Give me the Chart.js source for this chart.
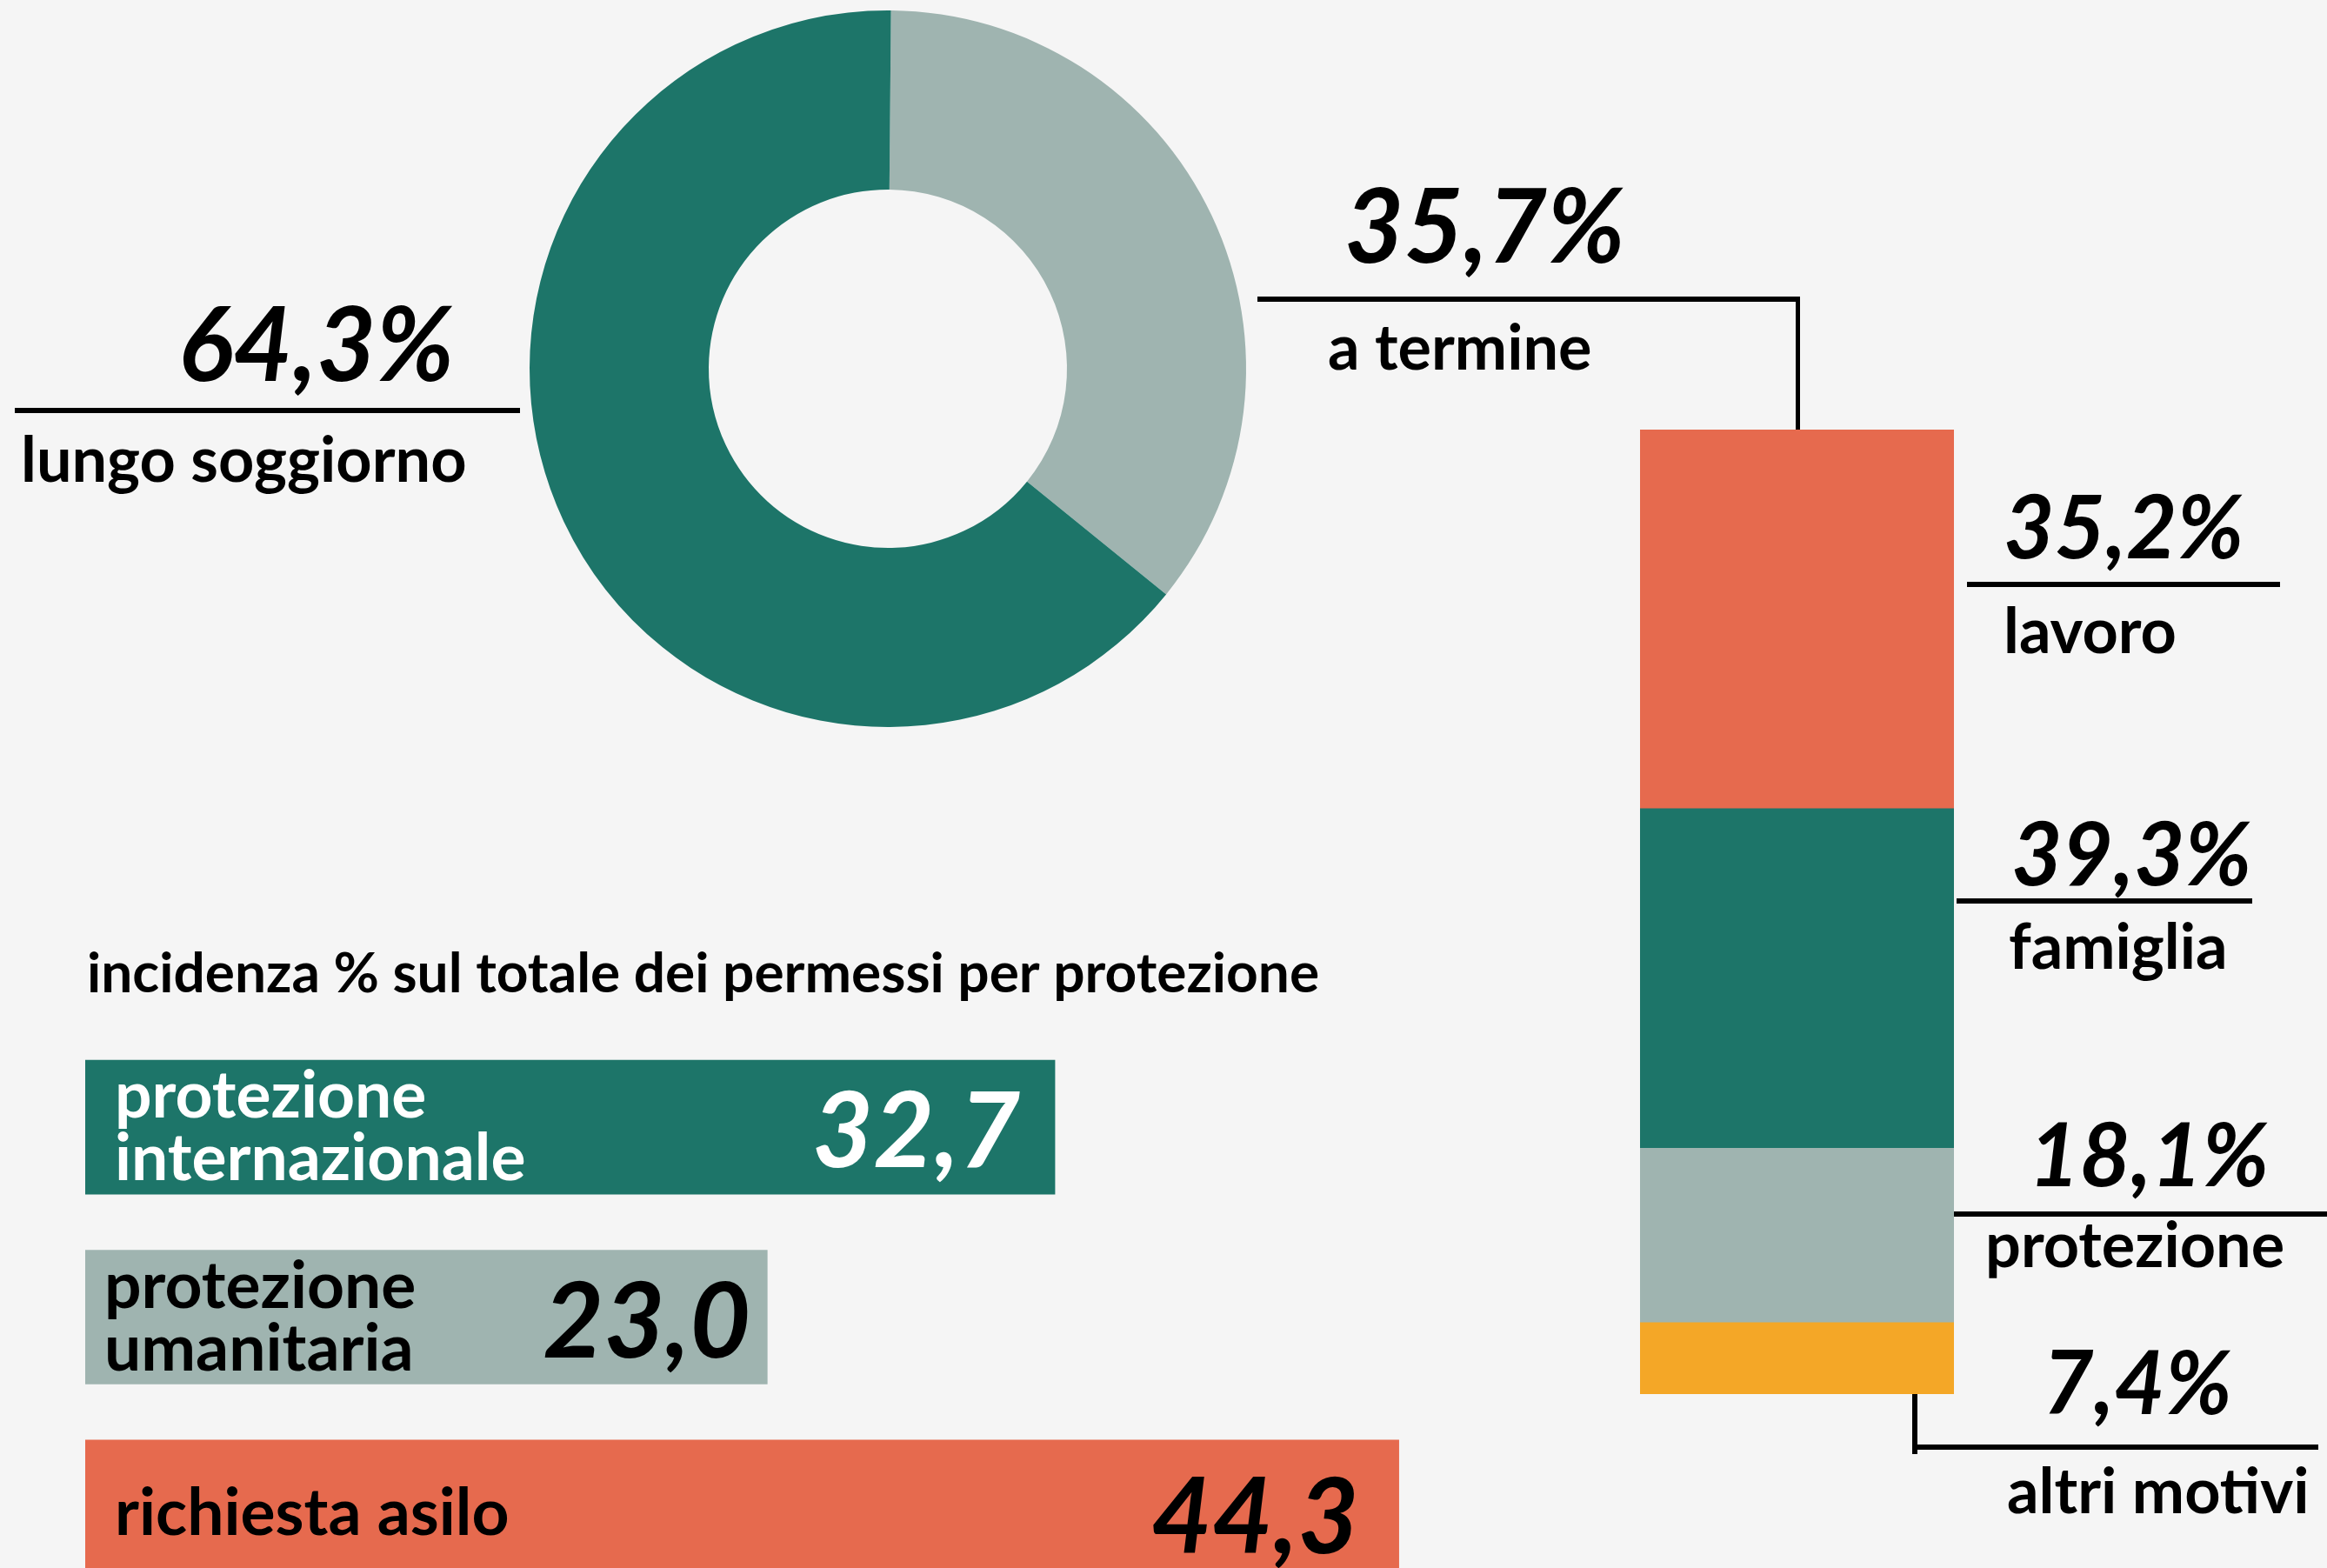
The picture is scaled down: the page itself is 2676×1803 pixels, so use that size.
<!DOCTYPE html>
<html lang="it">
<head>
<meta charset="utf-8">
<script src="https://cdn.jsdelivr.net/npm/chart.js@4.4.1/dist/chart.umd.min.js"></script>
<style>
  html, body { margin: 0; padding: 0; background: #f5f5f5; overflow: hidden; }
  #wrap { position: relative; width: 2676px; height: 1803px; overflow: hidden; }
  canvas { position: absolute; left: 0; top: 0; }
</style>
</head>
<body>
<div id="wrap">
  <canvas id="donut" width="2676" height="1803"></canvas>
  <canvas id="stack" width="2676" height="1803"></canvas>
  <canvas id="hbar" width="2676" height="1843"></canvas>
</div>
<script>
// permessi per durata
const durataLabels = ['a termine', 'lungo soggiorno'];
const durataValues = [35.7, 64.3];
const durataColors = ['#9fb4b0', '#1d7569'];

// motivi dei permessi a termine, dal basso verso l'alto
// (altezze lette dalla colonna; le etichette sono quelle stampate accanto)
const motiviLabels = ['altri motivi', 'protezione', 'famiglia', 'lavoro'];
const motiviValues = [7.4, 18.1, 35.2, 39.3];
const motiviTesti = ['7,4%', '18,1%', '39,3%', '35,2%'];
const motiviColors = ['#f4a727', '#9fb4b0', '#1d7569', '#e66a4e'];

// incidenza % sul totale dei permessi per protezione
const titolo = 'incidenza % sul totale dei permessi per protezione';
const protezioneLabels = [['protezione', 'internazionale'], ['protezione', 'umanitaria'], ['richiesta asilo']];
const protezioneValues = [32.7, 23.0, 44.3];
const protezioneColors = ['#1d7569', '#9fb4b0', '#e66a4e'];
const protezioneText = ['#ffffff', '#000000', '#000000'];

const NUM_BIG = 'italic 700 118px Lato';
const NUM_MID = 'italic 700 101px Lato';
const NUM_BAR = 'italic 700 121px Lato';
const LBL_FONT = '700 72px Lato';
const BAR_LBL_FONT = '700 75px Lato';
const TITLE_FONT = '700 64px Lato';

const fmt = v => v.toFixed(1).replace('.', ',');

function rule(ctx, x1, y, x2, w) {
  ctx.fillRect(x1, y - w / 2, x2 - x1, w);
}

const noUi = {
  legend: { display: false },
  tooltip: { enabled: false }
};

// --- ciambella ---
const donutText = {
  id: 'donutText',
  afterDraw(chart) {
    const ctx = chart.ctx;
    ctx.save();
    ctx.fillStyle = '#000';
    ctx.textBaseline = 'alphabetic';
    ctx.font = NUM_BIG;
    ctx.fillText(fmt(durataValues[1]) + '%', 205, 438);
    rule(ctx, 17, 472, 598, 6);
    ctx.font = LBL_FONT;
    ctx.fillText(durataLabels[1], 24, 554);
    ctx.restore();
  }
};

new Chart(document.getElementById('donut'), {
  type: 'doughnut',
  data: {
    labels: durataLabels,
    datasets: [{
      data: durataValues,
      backgroundColor: durataColors,
      borderWidth: 0,
      hoverOffset: 0
    }]
  },
  options: {
    responsive: false,
    animation: false,
    rotation: 0.5,
    cutout: '50%',
    layout: { autoPadding: false, padding: { left: 609, right: 1243, top: 12, bottom: 967 } },
    plugins: noUi
  },
  plugins: [donutText]
});

// --- colonna dei motivi ---
const stackText = {
  id: 'stackText',
  afterDraw(chart) {
    const ctx = chart.ctx;
    const top = chart.getDatasetMeta(3).data[0];
    const bottom = chart.getDatasetMeta(0).data[0];
    ctx.save();
    ctx.fillStyle = '#000';
    ctx.textBaseline = 'alphabetic';

    // a termine, collegato alla colonna
    ctx.font = NUM_BIG;
    ctx.fillText(fmt(durataValues[0]) + '%', 1546, 302);
    rule(ctx, 1446, 344, 2070, 6);
    ctx.fillRect(2065, 344, 5, top.y - 344);
    ctx.font = LBL_FONT;
    ctx.fillText(durataLabels[0], 1527, 425);

    // lavoro
    ctx.font = NUM_MID;
    ctx.fillText(motiviTesti[3], 2304, 642);
    rule(ctx, 2262, 672, 2622, 6);
    ctx.font = LBL_FONT;
    ctx.fillText(motiviLabels[3], 2304, 751);

    // famiglia
    ctx.font = NUM_MID;
    ctx.fillText(motiviTesti[2], 2313, 1018);
    rule(ctx, 2250, 1036, 2590, 6);
    ctx.font = LBL_FONT;
    ctx.fillText(motiviLabels[2], 2310, 1114);

    // protezione
    ctx.font = NUM_MID;
    ctx.fillText(motiviTesti[1], 2333, 1364);
    rule(ctx, 2247, 1396, 2676, 6);
    ctx.font = LBL_FONT;
    ctx.fillText(motiviLabels[1], 2283, 1457);

    // altri motivi
    ctx.font = NUM_MID;
    ctx.fillText(motiviTesti[0], 2349, 1626);
    rule(ctx, 2202, 1664, 2666, 6);
    ctx.fillRect(2199, bottom.base, 6, 1672 - bottom.base);
    ctx.font = LBL_FONT;
    ctx.fillText(motiviLabels[0], 2308, 1740);
    ctx.restore();
  }
};

new Chart(document.getElementById('stack'), {
  type: 'bar',
  data: {
    labels: ['a termine'],
    datasets: motiviLabels.map((l, i) => ({
      label: l,
      data: [motiviValues[i]],
      backgroundColor: motiviColors[i],
      borderWidth: 0,
      categoryPercentage: 1,
      barPercentage: 1
    }))
  },
  options: {
    responsive: false,
    animation: false,
    layout: { autoPadding: false, padding: { left: 1886, right: 429, top: 494, bottom: 200 } },
    scales: {
      x: { stacked: true, display: false },
      y: { stacked: true, display: false, min: 0, max: 100 }
    },
    plugins: noUi
  },
  plugins: [stackText]
});

// --- barre orizzontali della protezione ---
const labelDx = [34, 22, 34];
const valueDx = [40, 19, 46];
const valueDy = [46, 46, 53];

const hbarText = {
  id: 'hbarText',
  afterDatasetsDraw(chart) {
    const ctx = chart.ctx;
    const bars = chart.getDatasetMeta(0).data;
    ctx.save();
    ctx.textBaseline = 'alphabetic';
    ctx.fillStyle = '#000';
    ctx.font = TITLE_FONT;
    ctx.fillText(titolo, 100, 1141);
    bars.forEach((bar, i) => {
      const lines = protezioneLabels[i];
      ctx.fillStyle = protezioneText[i];
      ctx.textAlign = 'left';
      ctx.font = BAR_LBL_FONT;
      const y0 = lines.length > 1 ? bar.y - 11 : bar.y + 32;
      lines.forEach((t, k) => ctx.fillText(t, bar.base + labelDx[i], y0 + k * 72));
      ctx.textAlign = 'right';
      ctx.font = NUM_BAR;
      ctx.fillText(fmt(protezioneValues[i]), bar.x - valueDx[i], bar.y + valueDy[i]);
    });
    ctx.restore();
  }
};

new Chart(document.getElementById('hbar'), {
  type: 'bar',
  data: {
    labels: protezioneLabels,
    datasets: [{
      data: protezioneValues,
      backgroundColor: protezioneColors,
      borderWidth: 0,
      barThickness: 154
    }]
  },
  options: {
    indexAxis: 'y',
    responsive: false,
    animation: false,
    layout: { autoPadding: false, padding: { left: 98, right: 873, top: 1187, bottom: 1 } },
    scales: {
      x: { display: false, min: 0, max: 50 },
      y: { display: false }
    },
    plugins: noUi
  },
  plugins: [hbarText]
});
</script>
</body>
</html>
